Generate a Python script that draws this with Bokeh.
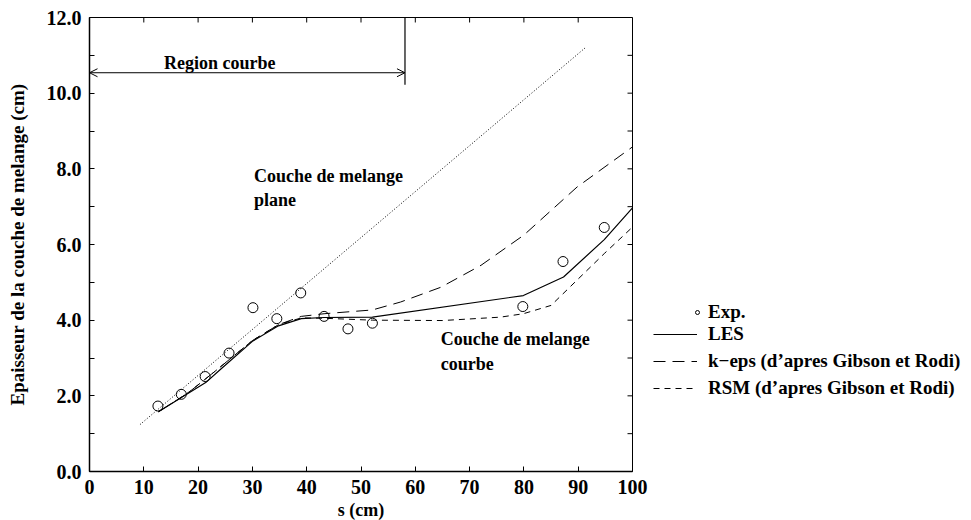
from bokeh.plotting import figure
from bokeh.layouts import row
from bokeh.models import FixedTicker, Legend, LegendItem, Arrow, OpenHead, PrintfTickFormatter
from bokeh.core.properties import value
from bokeh.embed import file_html
from bokeh.resources import INLINE

# ---- data ----
s_exp = [12.6, 16.9, 21.3, 25.7, 30.1, 34.5, 38.9, 43.2, 47.6, 52.1, 79.8, 87.2, 94.8]
y_exp = [1.73, 2.04, 2.51, 3.13, 4.33, 4.04, 4.72, 4.10, 3.77, 3.92, 4.36, 5.55, 6.45]

s_les = [12.7, 17.0, 21.4, 24.2, 30.0, 34.8, 39.0, 43.2, 52.1, 79.9, 87.3, 94.8, 100.0]
y_les = [1.58, 1.96, 2.35, 2.71, 3.44, 3.85, 4.04, 4.07, 4.08, 4.65, 5.14, 6.13, 6.97]

s_keps = [12.7, 17.0, 18.7, 23.3, 30.0, 34.8, 39.0, 43.2, 52.1, 57.3, 64.7, 72.1, 80.0, 89.8, 100.0]
y_keps = [1.58, 1.97, 2.14, 2.67, 3.46, 3.88, 4.10, 4.17, 4.27, 4.48, 4.87, 5.45, 6.25, 7.52, 8.58]

s_rsm = [12.7, 17.0, 18.7, 23.3, 30.0, 34.8, 39.0, 43.2, 52.1, 65.0, 75.7, 79.9, 85.0, 94.8, 100.0]
y_rsm = [1.58, 1.97, 2.14, 2.67, 3.46, 3.88, 4.06, 4.05, 4.00, 3.99, 4.08, 4.17, 4.39, 5.76, 6.46]

s_plane = [9.3, 91.3]
y_plane = [1.24, 11.2]

x_ticks = [0, 10, 20, 30, 40, 50, 60, 70, 80, 90, 100]
y_ticks = [0, 2, 4, 6, 8, 10, 12]
y_minor = [1, 3, 5, 7, 9, 11]

region_end = 58.1
region_y = 10.54
region_bar_bottom = 10.22

notes_x = [13.7, 30.3, 30.3, 64.7, 64.7]
notes_y = [10.80, 7.80, 7.17, 3.50, 2.85]
notes_t = ["Region courbe", "Couche de melange", "plane", "Couche de melange", "courbe"]

legend_labels = ["Exp.", "LES", "k\u2212eps (d\u2019apres Gibson et Rodi)",
                 "RSM (d\u2019apres Gibson et Rodi)"]

FONT = "Liberation Serif"
X0, X1, Y0, Y1 = 0, 100, 0, 12
TICK_DX = 0.92    # 5 px in x data units
TICK_DY = 0.132   # 5 px in y data units

p = figure(x_range=(X0, X1), y_range=(Y0, Y1), output_backend="svg", toolbar_location=None,
           frame_width=543, frame_height=454, min_border_left=89, min_border_top=17,
           min_border_right=20, min_border_bottom=0)
p.background_fill_color = "white"
p.border_fill_color = "white"
p.grid.visible = False
p.outline_line_color = "black"
p.outline_line_width = 1

p.xaxis.ticker = FixedTicker(ticks=x_ticks)
p.yaxis.ticker = FixedTicker(ticks=y_ticks, minor_ticks=y_minor)
p.yaxis.formatter = PrintfTickFormatter(format="%.1f")
for ax in (p.xaxis[0], p.yaxis[0]):
    ax.major_tick_in = 5
    ax.major_tick_out = 0
    ax.minor_tick_in = 5
    ax.minor_tick_out = 0
    ax.axis_line_width = 1.5
    ax.major_label_text_font = FONT
    ax.major_label_text_font_style = "bold"
    ax.major_label_text_font_size = "20px"
    ax.major_label_text_color = "black"
    ax.axis_label_text_font = FONT
    ax.axis_label_text_font_style = "bold"
    ax.axis_label_text_color = "black"
p.xaxis.minor_tick_line_color = None
p.xaxis.axis_label = "s (cm)"
p.yaxis.axis_label = "Epaisseur de la couche de melange (cm)"
p.xaxis.axis_label_text_font_size = "18px"
p.yaxis.axis_label_text_font_size = "19px"
p.xaxis.major_label_standoff = 8
p.xaxis.axis_label_standoff = 3
p.yaxis.major_label_standoff = 8
p.yaxis.axis_label_standoff = 16

# mirrored ticks on top and right edges
p.segment(x0=x_ticks, y0=[Y1] * len(x_ticks), x1=x_ticks, y1=[Y1 - TICK_DY] * len(x_ticks),
          line_color="black", line_width=1)
yr = y_ticks + y_minor
p.segment(x0=[X1] * len(yr), y0=yr, x1=[X1 - TICK_DX] * len(yr), y1=yr,
          line_color="black", line_width=1)

LES_STYLE = dict(line_color="black", line_width=1.2)
KEPS_STYLE = dict(line_color="black", line_width=1, line_dash="12 7")
RSM_STYLE = dict(line_color="black", line_width=1, line_dash="6 5")
EXP_STYLE = dict(marker="circle", fill_color=None, line_color="black", line_width=1)

p.line(s_plane, y_plane, line_color="black", line_width=1, line_dash="1 2")
p.line(s_les, y_les, **LES_STYLE)
p.line(s_keps, y_keps, **KEPS_STYLE)
p.line(s_rsm, y_rsm, **RSM_STYLE)
p.scatter(s_exp, y_exp, size=10, **EXP_STYLE)

p.add_layout(Arrow(start=OpenHead(size=8, line_width=1), end=OpenHead(size=8, line_width=1),
                   x_start=X0, y_start=region_y, x_end=region_end, y_end=region_y,
                   line_width=1, line_color="black"))
p.segment(x0=[region_end], y0=[Y1], x1=[region_end], y1=[region_bar_bottom],
          line_color="black", line_width=1.2)

p.text(x=notes_x, y=notes_y, text=notes_t, text_font=value(FONT), text_font_style="bold",
       text_font_size="18px", text_baseline="middle", text_align="left", text_color="black")

# ---- legend panel (separate figure to the right) ----
q = figure(width=319, height=520, output_backend="svg", toolbar_location=None,
           x_range=(0, 1), y_range=(0, 1), min_border=0)
q.axis.visible = False
q.grid.visible = False
q.outline_line_color = None
q.background_fill_color = "white"
q.border_fill_color = "white"
# off-range dummy renderers, only used to draw the legend glyphs
g_exp = q.scatter([-5], [-5], size=7, **EXP_STYLE)
g_les = q.line([-5, -4], [-5, -4], **LES_STYLE)
g_keps = q.line([-5, -4], [-5, -4], **KEPS_STYLE)
g_rsm = q.line([-5, -4], [-5, -4], **RSM_STYLE)

common = dict(label_text_font=FONT, label_text_font_style="bold", label_text_font_size="19px",
              label_text_color="black",
              border_line_color=None, background_fill_alpha=0, padding=0, margin=0,
              glyph_height=20, label_height=20, spacing=5)
leg_exp = Legend(items=[LegendItem(label=legend_labels[0], renderers=[g_exp])],
                 location=(40, 146), glyph_width=10, label_standoff=6, **common)
leg_lines = Legend(items=[
    LegendItem(label=legend_labels[1], renderers=[g_les]),
    LegendItem(label=legend_labels[2], renderers=[g_keps]),
    LegendItem(label=legend_labels[3], renderers=[g_rsm]),
], location=(1, 70), glyph_width=44, label_standoff=11, **common)
q.add_layout(leg_exp, "center")
q.add_layout(leg_lines, "center")

layout = row(p, q, spacing=0)
open("out.html", "w").write(file_html(layout, INLINE))
